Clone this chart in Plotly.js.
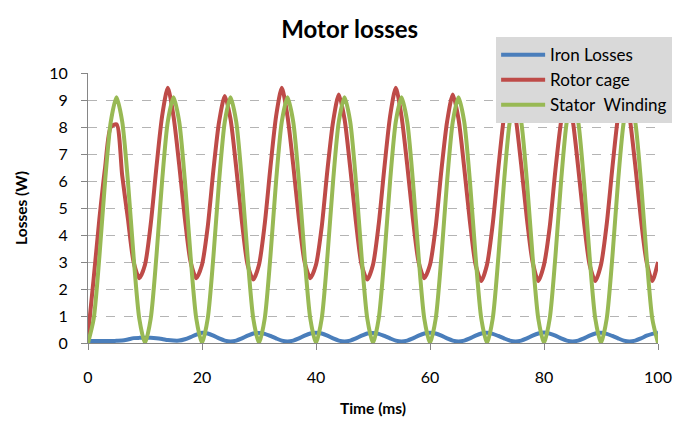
<!DOCTYPE html>
<html>
<head>
<meta charset="utf-8">
<script src="https://cdn.plot.ly/plotly-3.0.1.min.js"></script>
<style>
html,body{margin:0;padding:0;background:#fff;}
#chart{width:679px;height:424px;}
</style>
</head>
<body>
<div id="chart"></div>
<script>
// Time samples (ms), one every 1 ms from 0 to 100
var timeStart = 0, timeStep = 1, nSamples = 101;

// Series values (W)
var ironLosses = [
  0.08, 0.07, 0.07, 0.07, 0.07, 0.08, 0.09, 0.13, 0.18, 0.19,
  0.19, 0.19, 0.18, 0.15, 0.11, 0.09, 0.09, 0.14, 0.22, 0.31,
  0.38, 0.35, 0.27, 0.17, 0.09, 0.06, 0.09, 0.17, 0.27, 0.35,
  0.37, 0.34, 0.26, 0.17, 0.09, 0.06, 0.09, 0.17, 0.27, 0.35,
  0.38, 0.35, 0.27, 0.17, 0.09, 0.06, 0.09, 0.17, 0.27, 0.35,
  0.37, 0.34, 0.26, 0.17, 0.09, 0.06, 0.09, 0.17, 0.27, 0.35,
  0.38, 0.35, 0.27, 0.17, 0.09, 0.06, 0.09, 0.17, 0.27, 0.35,
  0.38, 0.34, 0.26, 0.17, 0.09, 0.06, 0.09, 0.17, 0.27, 0.35,
  0.39, 0.35, 0.27, 0.17, 0.09, 0.06, 0.09, 0.17, 0.27, 0.35,
  0.38, 0.34, 0.26, 0.17, 0.09, 0.06, 0.09, 0.17, 0.27, 0.34,
  0.38
];

var rotorCage = [
  0.3, 2.4, 4.6, 6.5, 8.0, 8.1, 6.2, 4.6, 3.0, 2.4,
  2.9, 4.4, 6.5, 8.4, 9.45, 8.4, 6.6, 4.6, 3.0, 2.4,
  2.9, 4.3, 6.4, 8.2, 9.15, 8.3, 6.5, 4.5, 2.9, 2.35,
  2.9, 4.4, 6.5, 8.4, 9.45, 8.4, 6.6, 4.6, 3.0, 2.4,
  2.9, 4.3, 6.4, 8.2, 9.2, 8.3, 6.5, 4.5, 2.9, 2.35,
  2.9, 4.4, 6.5, 8.4, 9.45, 8.4, 6.6, 4.6, 3.0, 2.4,
  2.9, 4.3, 6.4, 8.2, 9.2, 8.3, 6.5, 4.5, 2.9, 2.3,
  2.9, 4.4, 6.5, 8.4, 9.45, 8.4, 6.6, 4.6, 3.0, 2.3,
  2.9, 4.3, 6.4, 8.2, 9.2, 8.3, 6.5, 4.5, 2.9, 2.3,
  2.9, 4.4, 6.5, 8.4, 9.45, 8.4, 6.6, 4.6, 3.0, 2.3,
  3.0
];

var statorWinding = [
  0, 0.9, 3.2, 6.0, 8.2, 9.1, 8.2, 6.0, 3.2, 0.9,
  0, 0.9, 3.2, 6.0, 8.2, 9.1, 8.2, 6.0, 3.2, 0.9,
  0, 0.9, 3.2, 6.0, 8.2, 9.1, 8.2, 6.0, 3.2, 0.9,
  0, 0.9, 3.2, 6.0, 8.2, 9.1, 8.2, 6.0, 3.2, 0.9,
  0, 0.9, 3.2, 6.0, 8.2, 9.1, 8.2, 6.0, 3.2, 0.9,
  0, 0.9, 3.2, 6.0, 8.2, 9.1, 8.2, 6.0, 3.2, 0.9,
  0, 0.9, 3.2, 6.0, 8.2, 9.1, 8.2, 6.0, 3.2, 0.9,
  0, 0.9, 3.2, 6.0, 8.2, 9.1, 8.2, 6.0, 3.2, 0.9,
  0, 0.9, 3.2, 6.0, 8.2, 9.1, 8.2, 6.0, 3.2, 0.9,
  0, 0.9, 3.2, 6.0, 8.2, 9.1, 8.2, 6.0, 3.2, 0.9,
  0
];

var seriesNames = ["Iron Losses", "Rotor cage", "Stator  Winding"];
var xTickValues = [0, 20, 40, 60, 80, 100];
var yTickValues = [0, 1, 2, 3, 4, 5, 6, 7, 8, 9, 10];

var time = [];
for (var i = 0; i < nSamples; i++) time.push(timeStart + i * timeStep);

var colors = ["#4a7ebb", "#be4b48", "#98b954"];
var seriesData = [ironLosses, rotorCage, statorWinding];

var traces = seriesData.map(function (vals, k) {
  return {
    type: "scatter",
    mode: "lines",
    x: time,
    y: vals,
    name: seriesNames[k],
    line: {color: colors[k], width: 4, shape: "spline", smoothing: 0.7},
    cliponaxis: false
  };
});

var font = "Lato, 'Open Sans', 'Liberation Sans', sans-serif";

var layout = {
  width: 679,
  height: 424,
  margin: {l: 88, r: 21, t: 73, b: 81, autoexpand: false},
  paper_bgcolor: "#ffffff",
  plot_bgcolor: "#ffffff",
  font: {family: font, size: 15, color: "#000000"},
  title: {
    text: "<b>Motor losses</b>",
    font: {family: font, size: 24, color: "#000000"},
    x: 0.515, xanchor: "center",
    y: 0.93, yanchor: "middle"
  },
  xaxis: {
    range: [0, 100],
    tickvals: xTickValues,
    ticks: "outside",
    ticklen: 6,
    tickcolor: "#868686",
    showline: true,
    linecolor: "#868686",
    linewidth: 1,
    showgrid: false,
    zeroline: false,
    tickfont: {family: font, size: 16},
    ticklabelstandoff: 14,
    title: {text: "<b>Time (ms)</b>", font: {family: font, size: 15.5}, standoff: 17}
  },
  yaxis: {
    range: [0, 10],
    tickvals: yTickValues,
    ticks: "outside",
    ticklen: 6,
    tickcolor: "#868686",
    showline: true,
    linecolor: "#868686",
    linewidth: 1,
    showgrid: true,
    gridcolor: "#b4b4b4",
    griddash: "dash",
    gridwidth: 1,
    zeroline: false,
    tickfont: {family: font, size: 16},
    ticklabelstandoff: 10,
    title: {text: "<b>Losses (W)</b>", font: {family: font, size: 15.5}, standoff: 17}
  },
  legend: {
    x: 0.716, xanchor: "left",
    y: 1.133, yanchor: "top",
    bgcolor: "#d9d9d9",
    borderwidth: 0,
    font: {family: font, size: 17, color: "#000000"},
    itemwidth: 44,
    tracegroupgap: 0
  },
  showlegend: true
};

Plotly.newPlot("chart", traces, layout, {staticPlot: true, displayModeBar: false});
</script>
</body>
</html>
